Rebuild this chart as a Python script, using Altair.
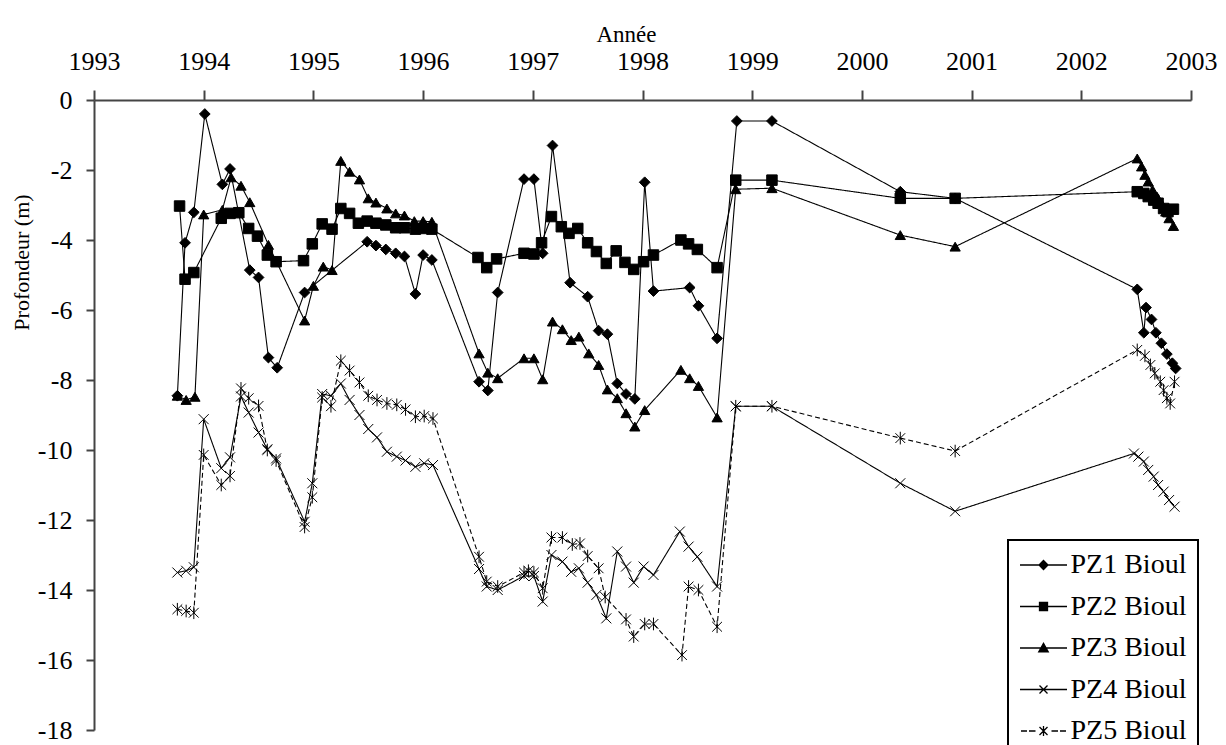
import altair as alt
import pandas as pd

series_names = ["PZ1 Bioul", "PZ2 Bioul", "PZ3 Bioul", "PZ4 Bioul", "PZ5 Bioul"]
year_ticks = list(range(1993, 2004))
depth_ticks = list(range(-18, 1, 2))

pz1_year = [1993.76, 1993.83, 1993.91, 1994.01, 1994.17, 1994.24, 1994.42, 1994.50, 1994.59, 1994.67,
            1994.92, 1995.49, 1995.57, 1995.66, 1995.75, 1995.83, 1995.93, 1996.00, 1996.08, 1996.51,
            1996.59, 1996.68, 1996.92, 1997.01, 1997.09, 1997.18, 1997.34, 1997.50, 1997.60, 1997.68,
            1997.77, 1997.85, 1997.93, 1998.02, 1998.10, 1998.43, 1998.51, 1998.68, 1998.86, 1999.18,
            2000.35, 2000.85, 2002.51, 2002.57, 2002.59, 2002.64, 2002.68, 2002.73, 2002.78, 2002.83,
            2002.86]
pz1_depth = [-8.45, -4.08, -3.21, -0.40, -2.41, -1.97, -4.86, -5.07, -7.36, -7.65,
             -5.50, -4.05, -4.16, -4.27, -4.38, -4.47, -5.54, -4.43, -4.57, -8.05,
             -8.30, -5.50, -2.26, -2.26, -4.38, -1.30, -5.22, -5.62, -6.59, -6.69,
             -8.10, -8.40, -8.54, -2.35, -5.46, -5.36, -5.88, -6.81, -0.60, -0.60,
             -2.62, -2.81, -5.41, -6.65, -5.93, -6.27, -6.65, -6.95, -7.26, -7.52,
             -7.67]

pz2_year = [1993.78, 1993.83, 1993.91, 1994.16, 1994.24, 1994.32, 1994.41, 1994.49, 1994.58, 1994.66,
            1994.91, 1994.99, 1995.08, 1995.17, 1995.25, 1995.33, 1995.41, 1995.49, 1995.57, 1995.66,
            1995.75, 1995.83, 1995.93, 1996.00, 1996.08, 1996.50, 1996.58, 1996.67, 1996.92, 1997.01,
            1997.08, 1997.17, 1997.26, 1997.33, 1997.41, 1997.50, 1997.58, 1997.67, 1997.76, 1997.84,
            1997.92, 1998.01, 1998.10, 1998.35, 1998.42, 1998.50, 1998.68, 1998.85, 1999.18, 2000.35,
            2000.85, 2002.51, 2002.57, 2002.61, 2002.66, 2002.70, 2002.75, 2002.79, 2002.84]
pz2_depth = [-3.03, -5.12, -4.93, -3.38, -3.24, -3.22, -3.67, -3.89, -4.43, -4.62,
             -4.59, -4.11, -3.54, -3.69, -3.10, -3.24, -3.52, -3.46, -3.52, -3.57,
             -3.65, -3.65, -3.69, -3.67, -3.69, -4.50, -4.79, -4.54, -4.38, -4.40,
             -4.08, -3.33, -3.62, -3.81, -3.67, -4.08, -4.33, -4.67, -4.31, -4.64,
             -4.84, -4.62, -4.43, -4.00, -4.11, -4.27, -4.79, -2.29, -2.29, -2.81,
             -2.81, -2.62, -2.67, -2.76, -2.86, -2.95, -3.10, -3.19, -3.12]

pz3_year = [1993.76, 1993.84, 1993.92, 1994.00, 1994.17, 1994.25, 1994.34, 1994.42, 1994.59, 1994.92,
            1995.00, 1995.09, 1995.17, 1995.25, 1995.33, 1995.42, 1995.50, 1995.57, 1995.67, 1995.75,
            1995.83, 1995.92, 1996.00, 1996.08, 1996.51, 1996.59, 1996.68, 1996.92, 1997.01, 1997.09,
            1997.18, 1997.27, 1997.35, 1997.42, 1997.51, 1997.60, 1997.68, 1997.77, 1997.85, 1997.93,
            1998.02, 1998.35, 1998.43, 1998.51, 1998.68, 1998.85, 1999.18, 2000.35, 2000.85, 2002.51,
            2002.55, 2002.58, 2002.61, 2002.65, 2002.69, 2002.73, 2002.77, 2002.80, 2002.84]
pz3_depth = [-8.45, -8.57, -8.48, -3.27, -3.14, -2.21, -2.45, -2.92, -4.14, -6.30,
             -5.31, -4.76, -4.86, -1.74, -2.05, -2.27, -2.81, -2.93, -3.10, -3.24,
             -3.30, -3.46, -3.46, -3.48, -7.24, -7.79, -7.95, -7.38, -7.38, -7.98,
             -6.33, -6.55, -6.86, -6.76, -7.24, -7.57, -8.27, -8.52, -8.95, -9.33,
             -8.86, -7.71, -7.95, -8.17, -9.07, -2.55, -2.52, -3.86, -4.19, -1.67,
             -1.90, -2.14, -2.33, -2.57, -2.76, -2.95, -3.19, -3.38, -3.60]

pz4_year = [1993.76, 1993.84, 1993.91, 1994.00, 1994.16, 1994.24, 1994.34, 1994.41, 1994.50, 1994.58,
            1994.66, 1994.92, 1994.99, 1995.08, 1995.16, 1995.25, 1995.33, 1995.42, 1995.50, 1995.58,
            1995.67, 1995.76, 1995.84, 1995.93, 1996.01, 1996.09, 1996.51, 1996.58, 1996.68, 1996.92,
            1997.01, 1997.09, 1997.17, 1997.27, 1997.35, 1997.42, 1997.50, 1997.58, 1997.67, 1997.77,
            1997.85, 1997.92, 1998.01, 1998.10, 1998.34, 1998.42, 1998.50, 1998.68, 1998.85, 1999.18,
            2000.35, 2000.85, 2002.48, 2002.52, 2002.57, 2002.61, 2002.66, 2002.70, 2002.75, 2002.80,
            2002.85]
pz4_depth = [-13.50, -13.45, -13.35, -9.12, -10.52, -10.21, -8.47, -8.93, -9.50, -9.98,
             -10.24, -12.05, -10.95, -8.40, -8.45, -8.10, -8.57, -9.00, -9.40, -9.64,
             -10.05, -10.19, -10.30, -10.48, -10.38, -10.43, -13.40, -13.90, -14.00, -13.60,
             -13.60, -14.33, -13.00, -13.19, -13.48, -13.38, -13.79, -14.14, -14.81, -12.90,
             -13.33, -13.79, -13.33, -13.57, -12.33, -12.76, -13.05, -13.90, -8.75, -8.75,
             -10.95, -11.75, -10.10, -10.19, -10.33, -10.57, -10.76, -11.00, -11.19, -11.43,
             -11.62]

pz5_year = [1993.76, 1993.84, 1993.91, 1994.00, 1994.16, 1994.24, 1994.34, 1994.41, 1994.50, 1994.58,
            1994.66, 1994.92, 1994.99, 1995.08, 1995.16, 1995.25, 1995.33, 1995.42, 1995.50, 1995.58,
            1995.67, 1995.76, 1995.84, 1995.93, 1996.01, 1996.09, 1996.51, 1996.58, 1996.68, 1996.92,
            1996.96, 1997.01, 1997.09, 1997.17, 1997.27, 1997.36, 1997.43, 1997.50, 1997.60, 1997.66,
            1997.85, 1997.92, 1998.02, 1998.10, 1998.36, 1998.42, 1998.51, 1998.68, 1998.85, 1999.18,
            2000.35, 2000.85, 2002.51, 2002.58, 2002.63, 2002.67, 2002.72, 2002.75, 2002.78, 2002.81,
            2002.85]
pz5_depth = [-14.55, -14.60, -14.65, -10.14, -11.00, -10.74, -8.24, -8.52, -8.74, -10.00,
             -10.30, -12.20, -11.35, -8.50, -8.75, -7.45, -7.73, -8.07, -8.45, -8.57,
             -8.67, -8.71, -8.84, -9.05, -9.03, -9.10, -13.05, -13.76, -13.90, -13.50,
             -13.45, -13.50, -13.95, -12.50, -12.50, -12.70, -12.67, -13.03, -13.38, -14.20,
             -14.84, -15.33, -14.97, -14.97, -15.86, -13.90, -14.00, -15.05, -8.75, -8.75,
             -9.66, -10.03, -7.14, -7.31, -7.57, -7.81, -8.05, -8.29, -8.52, -8.67,
             -8.05]

all_years = [pz1_year, pz2_year, pz3_year, pz4_year, pz5_year]
all_depths = [pz1_depth, pz2_depth, pz3_depth, pz4_depth, pz5_depth]

rows = []
for name, ys, ds in zip(series_names, all_years, all_depths):
    for i, (yr, d) in enumerate(zip(ys, ds)):
        rows.append({"series": name, "year": yr, "depth": d, "order": i})
df = pd.DataFrame(rows)

FONT = "Liberation Serif"

# marker shapes in the plot
plot_shapes = ["diamond", "square", "triangle-up",
               "M-1,-1L1,1M-1,1L1,-1",
               "M-1,-1L1,1M-1,1L1,-1M0,-1.3L0,1.3"]
# legend symbols: line + marker
solid = "M-4.7,0L4.7,0"
dashed = "M-4.5,0L-3.3,0M-2.9,0L-1.6,0M1.6,0L2.9,0M3.3,0L4.5,0"
legend_shapes = [
    solid + "M0,-0.9L0.9,0L0,0.9L-0.9,0Z",
    solid + "M-0.8,-0.8L0.8,-0.8L0.8,0.8L-0.8,0.8Z",
    solid + "M0,-0.95L0.95,0.75L-0.95,0.75Z",
    solid + "M-0.8,-0.8L0.8,0.8M-0.8,0.8L0.8,-0.8",
    dashed + "M-0.8,-0.8L0.8,0.8M-0.8,0.8L0.8,-0.8M0,-1L0,1",
]

x_enc = alt.X("year:Q",
              scale=alt.Scale(domain=[1993, 2003], nice=False, zero=False),
              axis=alt.Axis(orient="top", values=year_ticks, format="d", title="Année",
                            titleFont=FONT, titleFontSize=23, titleFontWeight="normal",
                            titleColor="black", titlePadding=2, titleX=532,
                            labelFont=FONT, labelFontSize=26, labelColor="black",
                            labelPadding=16, labelFlush=False, labelOverlap=False,
                            tickSize=10, tickWidth=2, tickColor="#444",
                            domainColor="#444", domainWidth=2, grid=False))
y_enc = alt.Y("depth:Q",
              scale=alt.Scale(domain=[-18, 0], nice=False, zero=False),
              axis=alt.Axis(values=depth_ticks, labelExpr="'' + datum.value",
                            title="Profondeur (m)",
                            titleFont=FONT, titleFontSize=22, titleFontWeight="normal",
                            titleColor="black", titlePadding=4, titleY=162,
                            labelFont=FONT, labelFontSize=26, labelColor="black",
                            labelPadding=14, labelOverlap=False,
                            tickSize=8, tickWidth=2, tickColor="#444",
                            domainColor="#444", domainWidth=2, grid=False))

lines = alt.Chart(df).mark_line(color="black", strokeWidth=1.1).encode(
    x=x_enc, y=y_enc, detail="series:N", order="order:Q",
    strokeDash=alt.StrokeDash("series:N",
                              scale=alt.Scale(domain=series_names,
                                              range=[[1, 0], [1, 0], [1, 0], [1, 0], [5, 3]]),
                              legend=None),
)

points = alt.Chart(df).mark_point(filled=True, fill="black", stroke="black", opacity=1).encode(
    x=x_enc, y=y_enc,
    shape=alt.Shape("series:N", scale=alt.Scale(domain=series_names, range=plot_shapes), legend=None),
    size=alt.Size("series:N", scale=alt.Scale(domain=series_names, range=[115, 95, 125, 170, 170]),
                  legend=None),
    strokeWidth=alt.StrokeWidth("series:N",
                                scale=alt.Scale(domain=series_names, range=[1, 1, 1, 1.3, 2.2]),
                                legend=None),
)

legend_layer = alt.Chart(df).transform_filter("false").mark_point(
    filled=True, fill="black", stroke="black", strokeWidth=1.3, opacity=1, size=100
).encode(
    x=x_enc, y=y_enc,
    shape=alt.Shape("series:N", scale=alt.Scale(domain=series_names, range=legend_shapes),
                    legend=alt.Legend(title=None, orient="none", legendX=914, legendY=440,
                                      labelFont=FONT, labelFontSize=28, labelColor="black",
                                      labelLimit=400, symbolSize=100, symbolOffset=10.5,
                                      labelOffset=13, rowPadding=13.5, padding=11,
                                      strokeColor="black", fillColor="white",
                                      symbolStrokeWidth=1.3)),
)

chart = alt.layer(lines, points, legend_layer).resolve_scale(
    shape="independent", strokeDash="independent", strokeWidth="independent", size="independent"
).properties(
    width=1097, height=630,
    autosize=alt.AutoSizeParams(type="none"),
    padding={"left": 86, "top": 92, "right": 27, "bottom": 40},
    background="white",
).configure_view(stroke=None).configure_legend(strokeWidth=2)

chart.save("out.html", embed_options={"renderer": "svg", "actions": False})
